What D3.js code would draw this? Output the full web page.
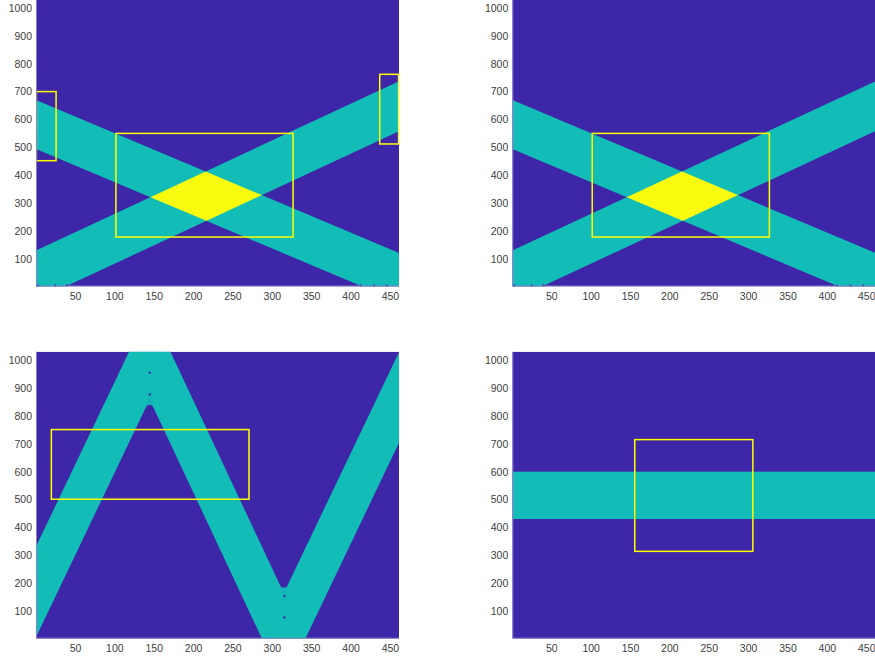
<!DOCTYPE html>
<html>
<head>
<meta charset="utf-8">
<script src="https://cdn.jsdelivr.net/npm/d3@7"></script>
<style>
  html, body { margin: 0; padding: 0; background: #fff; }
  svg { display: block; }
  .tick-label { font-family: "Liberation Sans", Arial, Helvetica, sans-serif; font-size: 10.5px; fill: #404040; }
</style>
</head>
<body>
<svg id="chart" width="875" height="661"></svg>
<script>
// Image size (columns x rows) shared by all four panels
const imageCols = 461;
const imageRows = 1030;

// Tick values
const xTickValues = [50, 100, 150, 200, 250, 300, 350, 400, 450];
const yTickValues = [100, 200, 300, 400, 500, 600, 700, 800, 900, 1000];

// Crossing bands (top panels): boundary heights at the left and right image edges
const bandEdgeX = [0.5, 461.5];
const fallingLower = [494, -55];
const fallingUpper = [670, 121];
const risingLower = [-49, 558];
const risingUpper = [130, 737];
const crossSpecks = [[3, 3], [25, 3], [40, 4], [406, 3], [413, 3], [430, 3], [446, 3]];

// Zigzag band (bottom-left): centre line vertices and horizontal half-width
const zigX = [-28, 145, 315, 488];
const zigY = [0, 1023, 0, 1023];
const zigHalfWidth = 27.5;
const zigSpecks = [[145, 877], [145, 955], [316, 154], [316, 77]];

// Horizontal band (bottom-right): lower and upper row
const stripeRows = [430, 600];

// Highlight rectangles per panel: [x0, x1, y0, y1]
const boxesTopLeft = [[1, 26, 452, 700], [102, 327, 178, 550], [437, 461, 512, 762]];
const boxesTopRight = [[102, 327, 178, 550]];
const boxesBottomLeft = [[20, 271, 501, 751]];
const boxesBottomRight = [[156, 306, 314, 715]];

// parula colours for values 0, 1, 2
const colorLow = "#3e26a8";
const colorMid = "#13bdb7";
const colorHigh = "#f9fb0e";
const boxColor = "#ffff00";

const svg = d3.select("#chart");
const defs = svg.append("defs");

const panelW = 363, panelH = 287;
const innerCornerRadius = 4;   // px, rounding of the zigzag's inner corners
const panels = [
  { id: "tl", left: 36,    top: -0.5,  kind: "cross",  boxes: boxesTopLeft,     specks: crossSpecks },
  { id: "tr", left: 512.3, top: -0.5,  kind: "cross",  boxes: boxesTopRight,    specks: crossSpecks },
  { id: "bl", left: 36,    top: 351.7, kind: "zigzag", boxes: boxesBottomLeft,  specks: zigSpecks },
  { id: "br", left: 512.3, top: 351.7, kind: "stripe", boxes: boxesBottomRight, specks: [] }
];

panels.forEach(p => {
  const x = d3.scaleLinear().domain([0.5, imageCols + 0.5]).range([p.left, p.left + panelW]);
  const y = d3.scaleLinear().domain([0.5, imageRows + 0.5]).range([p.top + panelH, p.top]);

  defs.append("clipPath").attr("id", "clip-" + p.id)
    .append("rect")
    .attr("x", x.range()[0]).attr("y", y.range()[1])
    .attr("width", panelW).attr("height", panelH);

  const g = svg.append("g").attr("clip-path", `url(#clip-${p.id})`);

  // background (value 0)
  g.append("rect")
    .attr("x", x(0.5)).attr("y", y(imageRows + 0.5))
    .attr("width", x(imageCols + 0.5) - x(0.5))
    .attr("height", y(0.5) - y(imageRows + 0.5))
    .attr("fill", colorLow);

  if (p.kind === "cross") {
    const bandPoints = (lower, upper) => [
      [x(bandEdgeX[0]), y(lower[0])],
      [x(bandEdgeX[1]), y(lower[1])],
      [x(bandEdgeX[1]), y(upper[1])],
      [x(bandEdgeX[0]), y(upper[0])]
    ].map(d => d.join(",")).join(" ");

    const falling = bandPoints(fallingLower, fallingUpper);
    const rising = bandPoints(risingLower, risingUpper);

    g.append("polygon").attr("points", falling).attr("fill", colorMid);
    g.append("polygon").attr("points", rising).attr("fill", colorMid);

    // overlap of both bands (value 2)
    defs.append("clipPath").attr("id", "rise-" + p.id)
      .append("polygon").attr("points", rising);
    g.append("g").attr("clip-path", `url(#rise-${p.id})`)
      .append("polygon").attr("points", falling).attr("fill", colorHigh);
  }

  if (p.kind === "zigzag") {
    const pts = zigX.map((v, i) => [x(v), y(zigY[i])]);
    // perpendicular stroke width from the horizontal band width
    const dx = pts[1][0] - pts[0][0], dy = pts[1][1] - pts[0][1];
    const sinA = Math.abs(dy) / Math.hypot(dx, dy);
    const strokeW = (x(2 * zigHalfWidth) - x(0)) * sinA;
    g.append("path")
      .attr("d", d3.line()(pts))
      .attr("fill", "none")
      .attr("stroke", colorMid)
      .attr("stroke-width", strokeW)
      .attr("stroke-linejoin", "round");

    // rounded fill-in of each inner corner
    const h = strokeW / 2, r = innerCornerRadius;
    const unit = v => { const l = Math.hypot(v[0], v[1]); return [v[0] / l, v[1] / l]; };
    for (let i = 1; i < pts.length - 1; i++) {
      const P = pts[i];
      const u1 = unit([pts[i - 1][0] - P[0], pts[i - 1][1] - P[1]]);
      const u2 = unit([pts[i + 1][0] - P[0], pts[i + 1][1] - P[1]]);
      const b = unit([u1[0] + u2[0], u1[1] + u2[1]]);
      const cosT = u1[0] * u2[0] + u1[1] * u2[1];
      const half = Math.acos(cosT) / 2;
      const dC = h / Math.sin(half);
      const C = [P[0] + b[0] * dC, P[1] + b[1] * dC];
      const t = r / Math.tan(half);
      const T1 = [C[0] + u1[0] * t, C[1] + u1[1] * t];
      const T2 = [C[0] + u2[0] * t, C[1] + u2[1] * t];
      const dO = r / Math.sin(half);
      const O = [C[0] + b[0] * dO, C[1] + b[1] * dO];
      const cross = (T2[0] - O[0]) * (T1[1] - O[1]) - (T2[1] - O[1]) * (T1[0] - O[0]);
      const sweep = cross > 0 ? 1 : 0;
      g.append("path")
        .attr("d", `M${T1}L${C}L${T2}A${r},${r} 0 0 ${sweep} ${T1}Z`)
        .attr("fill", colorMid);
    }
  }

  if (p.kind === "stripe") {
    g.append("rect")
      .attr("x", x(0.5)).attr("y", y(stripeRows[1]))
      .attr("width", x(imageCols + 0.5) - x(0.5))
      .attr("height", y(stripeRows[0]) - y(stripeRows[1]))
      .attr("fill", colorMid);
  }

  g.selectAll("circle.speck").data(p.specks).join("circle")
    .attr("class", "speck")
    .attr("cx", d => x(d[0])).attr("cy", d => y(d[1]))
    .attr("r", 1.2).attr("fill", colorLow);

  g.selectAll("rect.box").data(p.boxes).join("rect")
    .attr("class", "box")
    .attr("x", d => x(d[0])).attr("y", d => y(d[3]))
    .attr("width", d => x(d[1]) - x(d[0]))
    .attr("height", d => y(d[2]) - y(d[3]))
    .attr("fill", "none")
    .attr("stroke", boxColor)
    .attr("stroke-width", 1.5);

  // faint axis edges
  svg.append("path")
    .attr("d", `M${x(0.5) + 0.5},${y(imageRows + 0.5)}V${y(0.5) - 0.5}H${x(imageCols + 0.5)}`)
    .attr("fill", "none").attr("stroke", "#8a82c8").attr("stroke-width", 1);

  // tick labels
  const xAxis = d3.axisBottom(x).tickValues(xTickValues).tickFormat(d3.format("d")).tickSize(0).tickPadding(6);
  const yAxis = d3.axisLeft(y).tickValues(yTickValues).tickFormat(d3.format("d")).tickSize(0).tickPadding(4);

  const gx = svg.append("g").attr("transform", `translate(0,${y(0.5)})`).call(xAxis);
  const gy = svg.append("g").attr("transform", `translate(${x(0.5)},0)`).call(yAxis);
  [gx, gy].forEach(a => {
    a.select(".domain").remove();
    a.selectAll("text").attr("class", "tick-label").attr("fill", null).attr("font-size", null).attr("font-family", null);
  });
});
</script>
</body>
</html>
